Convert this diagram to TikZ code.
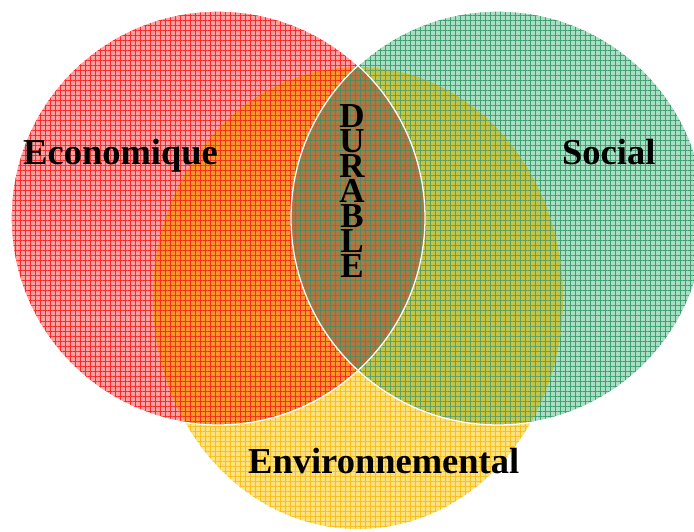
\documentclass[tikz,border=0pt]{standalone}
\usepackage{fontspec}
\setmainfont{Liberation Serif}
\usetikzlibrary{patterns.meta}
\definecolor{yelbase}{RGB}{255,226,125}
\definecolor{yelline}{RGB}{246,192,30}
\definecolor{redbase}{RGB}{255,160,160}
\definecolor{redline}{RGB}{250,40,40}
\definecolor{orabase}{RGB}{252,150,45}
\definecolor{oraline}{RGB}{245,45,25}
\definecolor{grnbase}{RGB}{170,222,196}
\definecolor{grnline}{RGB}{62,160,112}
\definecolor{olvbase}{RGB}{196,196,70}
\definecolor{olvline}{RGB}{95,160,95}
\definecolor{lensbase}{RGB}{178,118,66}
\definecolor{lensline}{RGB}{82,140,92}
\begin{document}
\begin{tikzpicture}[x=1pt,y=1pt,
  gridfill/.style={pattern={Hatch[distance=5pt,angle=0,line width=1pt]}, pattern color=#1},
  region/.style 2 args={fill=#1, postaction={gridfill=#2}},
  lbl/.style={font=\bfseries\fontsize{36.5}{40}\selectfont, inner sep=0pt, text=black},
  outline/.style={draw=white, line width=1.3pt}]
\clip (0,0) rectangle (694,531);
% yellow ellipse (environment)
\path[region={yelbase}{yelline}] (358,233) ellipse[x radius=205, y radius=231];
% red circle (economy)
\path[region={redbase}{redline}] (218,313) circle[radius=207];
\begin{scope}
  \clip (218,313) circle[radius=207];
  \path[region={orabase}{oraline}] (358,233) ellipse[x radius=205, y radius=231];
\end{scope}
% green circle (social)
\path[region={grnbase}{grnline}] (498,313) circle[radius=207];
\begin{scope}
  \clip (498,313) circle[radius=207];
  \path[region={olvbase}{olvline}] (358,233) ellipse[x radius=205, y radius=231];
\end{scope}
% lens red & green
\begin{scope}
  \clip (218,313) circle[radius=207];
  \path[region={lensbase}{lensline}] (498,313) circle[radius=207];
\end{scope}
% white outlines
\path[outline] (218,313) circle[radius=207];
\path[outline] (498,313) circle[radius=207];
% labels
\node[lbl, anchor=base west] (eco) at (23,366) {Economique};
\node[lbl, anchor=base west] (soc) at (562,366) {Social};
\node[lbl, anchor=base west] (env) at (248,58) {Environnemental};
\node[lbl, font=\bfseries\fontsize{35}{25}\selectfont, align=center, anchor=center] (dur) at (352,339.5) {D\\U\\R\\A\\B\\L\\E};
\end{tikzpicture}
\end{document}
